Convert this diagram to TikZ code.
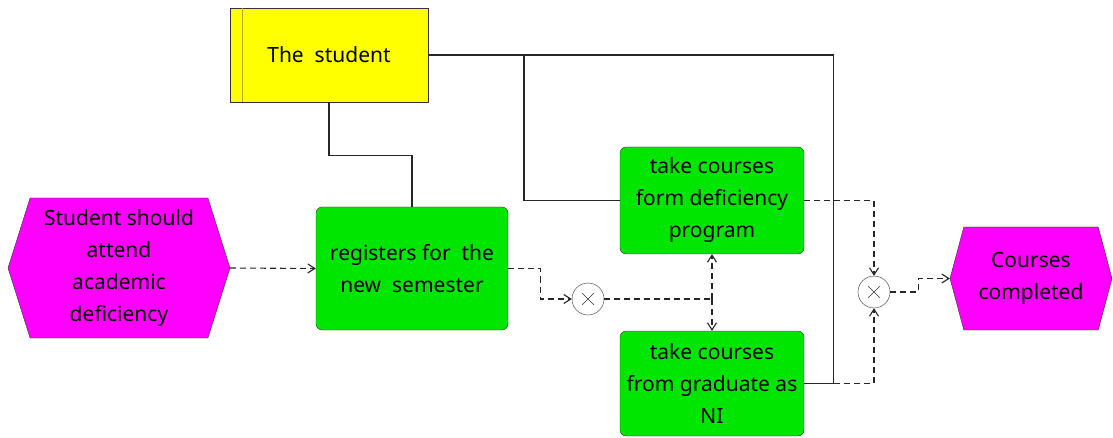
\documentclass[tikz,border=0pt]{standalone}
\usepackage{fontspec}
\setmainfont{Noto Sans}
\usetikzlibrary{arrows.meta,shapes.symbols}
\definecolor{fngreen}{RGB}{0,230,0}
\definecolor{evmagenta}{RGB}{255,0,255}
\definecolor{orgyellow}{RGB}{255,255,0}
\begin{document}
\begin{tikzpicture}[x=1pt,y=-1pt,
    every node/.style={font=\fontsize{21}{32}\selectfont, align=center, inner sep=0pt},
    func/.style={draw=black!80, fill=fngreen, rounded corners=6pt, minimum width=184pt, minimum height=106pt},
    event/.style={draw=black!80, fill=evmagenta, signal, signal to=west and east, signal pointer angle=145, minimum height=140pt, minimum width=222pt},
    xor/.style={draw=black!80, fill=white, circle, minimum size=32pt,
        path picture={\draw[black!80] ([shift={(-6pt,-6pt)}]path picture bounding box.center) -- ([shift={(6pt,6pt)}]path picture bounding box.center)
            ([shift={(-6pt,6pt)}]path picture bounding box.center) -- ([shift={(6pt,-6pt)}]path picture bounding box.center);}},
    org/.style={draw=black!85, line width=1.1pt},
    flow/.style={draw=black!85, line width=1.1pt, dash pattern=on 6pt off 4pt, -{Straight Barb[length=7pt,width=9pt]}},
    dashline/.style={draw=black!85, line width=1.1pt, dash pattern=on 6pt off 4pt}]

    \useasboundingbox (0,0) rectangle (1113,438);

    \node (student) [draw=black!80, fill=orgyellow, minimum width=198pt, minimum height=94pt] at (329,55) {The~ student};
    \draw[orgyellow!70!black] ([xshift=12pt]student.north west) -- ([xshift=12pt]student.south west);

    \node (attend) [event] at (119,268) {Student should\\attend\\academic\\deficiency};
    \node (reg) [func, minimum width=192pt, minimum height=123pt] at (412,268.5) {registers for~ the\\new~ semester};
    \node (def) [func, minimum height=107pt] at (712,200.5) {take courses\\form deficiency\\program};
    \node (grad) [func, minimum height=105pt] at (712,383.5) {take courses\\from graduate as\\NI};
    \node (x1) [xor] at (588,299) {};
    \node (x2) [xor] at (874,292) {};
    \node (done) [event, signal pointer angle=150, minimum height=103pt, minimum width=162pt] at (1031,278.5) {Courses\\completed};

    \coordinate (tap) at (524,55);
    \coordinate (split) at (x1 -| def.south);

    % control flow
    \draw[flow] (attend.east) -- (reg.west);
    \draw[flow] (reg.east) -- ++(32,0) |- (x1.west);
    \draw[dashline] (x1.east) -- (split);
    \draw[flow] (split) -- (def.south);
    \draw[flow] (split) -- (grad.north);
    \draw[flow] (def.east) -| (x2.north);
    \draw[flow] (grad.east) -| (x2.south);
    \draw[flow] (x2.east) -- ++(28,0) |- (done.west);

    % organisational links
    \draw[org] (student.south) -- ++(0,53) -| (reg.north);
    \draw[org] (def.west) -| (tap);
    \draw[org] (student.east) -| ([xshift=29pt]grad.east) -- (grad.east);
\end{tikzpicture}
\end{document}
